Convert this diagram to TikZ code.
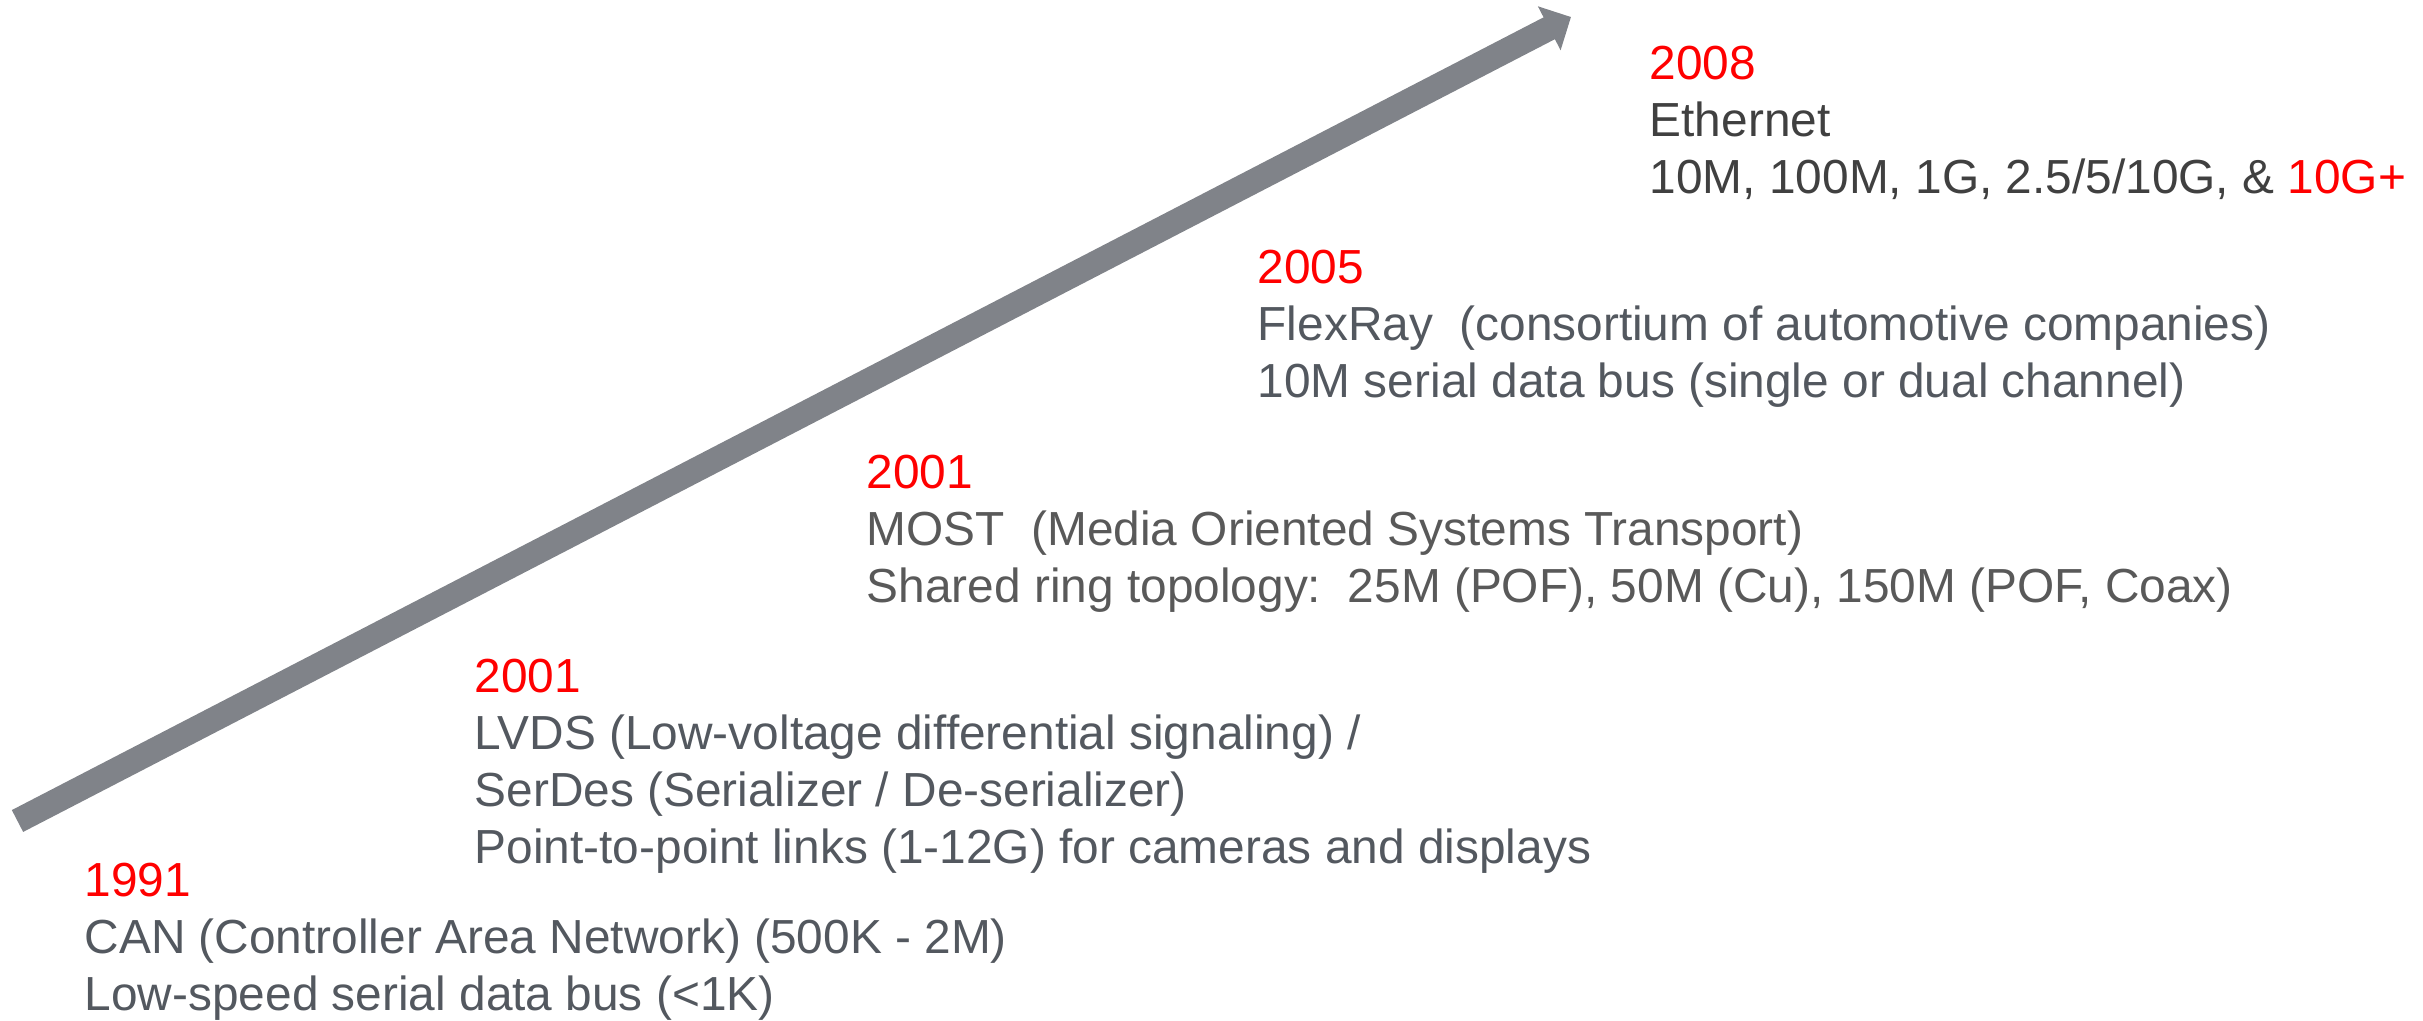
\documentclass[tikz,border=0pt]{standalone}
\usepackage{fontspec}
\setmainfont{Liberation Sans}
\usetikzlibrary{arrows.meta,positioning}
\definecolor{yearred}{RGB}{255,0,0}
\definecolor{bodygray}{RGB}{83,88,95}
\definecolor{mostgray}{RGB}{89,89,89}
\definecolor{ethgray}{RGB}{64,64,64}
\definecolor{arrowgray}{RGB}{128,131,137}
\begin{document}
\begin{tikzpicture}[x=0.01cm,y=-0.01cm,
    era/.style={anchor=base west,align=left,inner sep=0pt,text=bodygray,
      font=\fontsize{13.6}{16.2}\selectfont},
    timeline/.style={arrowgray,line width=0.246cm,
      -{Triangle[length=0.245cm,width=0.48cm]}}]
  \useasboundingbox (0,0) rectangle (2423,1021);
  \coordinate (tail) at (17.5,821);
  \coordinate (tip) at (1571,17);
  \draw[timeline] (tail) -- (tip);
  \node (can) [era] at (84,1010) {\textcolor{yearred}{1991}\\
    CAN (Controller Area Network) (500K - 2M)\\
    Low-speed serial data bus (<1K)};
  \node (lvds) [era] at (474,863) {\textcolor{yearred}{2001}\\
    LVDS (Low-voltage differential signaling) /\\
    SerDes (Serializer / De-serializer)\\
    Point-to-point links (1-12G) for cameras and displays};
  \node (most) [era,text=mostgray] at (866,602) {\textcolor{yearred}{2001}\\
    MOST\ \ (Media Oriented Systems Transport)\\
    Shared ring topology:\ \ 25M (POF), 50M (Cu), 150M (POF, Coax)};
  \node (flexray) [era] at (1257,397) {\textcolor{yearred}{2005}\\
    FlexRay\ \ (consortium of automotive companies)\\
    10M serial data bus (single or dual channel)};
  \node (ethernet) [era,text=ethgray] at (1649,193) {\textcolor{yearred}{2008}\\
    Ethernet\\
    10M, 100M, 1G, 2.5/5/10G, \& \textcolor{yearred}{10G+}};
\end{tikzpicture}
\end{document}
